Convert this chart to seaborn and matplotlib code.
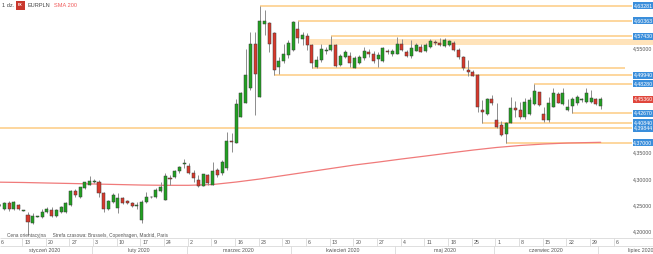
import numpy as np
import pandas as pd
import matplotlib
matplotlib.use("Agg")
import matplotlib.pyplot as plt
import matplotlib.transforms as mtransforms
from matplotlib.patches import Rectangle
import seaborn as sns

# ---------------- data ----------------
dates = pd.bdate_range("2020-01-06", "2020-07-01")

opens = [4.2515, 4.243, 4.255, 4.244, 4.251, 4.240, 4.232, 4.217, 4.228, 4.228,
         4.238, 4.241, 4.230, 4.238, 4.238, 4.251, 4.278, 4.267, 4.283, 4.290,
         4.295, 4.295, 4.274, 4.243, 4.257, 4.245, 4.264, 4.259, 4.254, 4.249,
         4.222, 4.256, 4.266, 4.267, 4.278, 4.261, 4.302, 4.304, 4.315, 4.330,
         4.326, 4.313, 4.299, 4.288, 4.308, 4.289, 4.318, 4.312, 4.321, 4.374,
         4.370, 4.420, 4.447, 4.474, 4.559, 4.457, 4.598, 4.600, 4.580, 4.516,
         4.527, 4.539, 4.548, 4.587, 4.569, 4.574, 4.557, 4.515, 4.528, 4.545,
         4.548, 4.557, 4.519, 4.535, 4.536, 4.513, 4.523, 4.532, 4.544, 4.540,
         4.530, 4.527, 4.545, 4.540, 4.541, 4.560, 4.544, 4.536, 4.546, 4.554,
         4.546, 4.554, 4.562, 4.562, 4.555, 4.557, 4.5605, 4.548, 4.534, 4.509,
         4.506, 4.500, 4.433, 4.425, 4.453, 4.4136, 4.404, 4.387, 4.408, 4.436,
         4.433, 4.419, 4.425, 4.444, 4.467, 4.426, 4.414, 4.439, 4.463, 4.444,
         4.433, 4.440, 4.446, 4.452, 4.449, 4.449, 4.453, 4.440]
highs = [4.253, 4.256, 4.258, 4.258, 4.253, 4.241, 4.238, 4.235, 4.230, 4.243,
         4.246, 4.246, 4.244, 4.249, 4.257, 4.280, 4.281, 4.286, 4.295, 4.306,
         4.300, 4.299, 4.276, 4.260, 4.274, 4.274, 4.267, 4.261, 4.257, 4.257,
         4.260, 4.276, 4.268, 4.283, 4.295, 4.312, 4.308, 4.318, 4.326, 4.339,
         4.331, 4.317, 4.308, 4.311, 4.311, 4.334, 4.321, 4.337, 4.391, 4.388,
         4.453, 4.468, 4.549, 4.583, 4.583, 4.63281, 4.625, 4.602, 4.583, 4.535,
         4.559, 4.567, 4.603, 4.60363, 4.583, 4.580, 4.559, 4.536, 4.560, 4.553,
         4.5743, 4.559, 4.541, 4.548, 4.544, 4.536, 4.539, 4.553, 4.550, 4.546,
         4.544, 4.553, 4.549, 4.549, 4.573, 4.568, 4.548, 4.567, 4.561, 4.559,
         4.562, 4.569, 4.566, 4.570, 4.570, 4.567, 4.564, 4.551, 4.537, 4.529,
         4.510, 4.502, 4.452, 4.456, 4.4615, 4.4456, 4.412, 4.410, 4.457, 4.450,
         4.448, 4.455, 4.457, 4.4828, 4.468, 4.439, 4.457, 4.474, 4.468, 4.474,
         4.453, 4.458, 4.461, 4.455, 4.474, 4.471, 4.455, 4.458]
lows = [4.249, 4.241, 4.240, 4.242, 4.241, 4.239, 4.193, 4.214, 4.227, 4.226,
        4.235, 4.228, 4.228, 4.236, 4.235, 4.248, 4.267, 4.264, 4.281, 4.289,
        4.292, 4.267, 4.238, 4.241, 4.254, 4.235, 4.253, 4.252, 4.247, 4.244,
        4.217, 4.254, 4.265, 4.264, 4.276, 4.260, 4.289, 4.302, 4.313, 4.321,
        4.310, 4.294, 4.286, 4.287, 4.290, 4.289, 4.305, 4.308, 4.318, 4.353,
        4.369, 4.419, 4.446, 4.472, 4.423, 4.457, 4.576, 4.543, 4.4994, 4.502,
        4.522, 4.532, 4.545, 4.561, 4.557, 4.548, 4.5126, 4.513, 4.525, 4.541,
        4.546, 4.515, 4.517, 4.533, 4.516, 4.5128, 4.520, 4.529, 4.535, 4.523,
        4.515, 4.525, 4.541, 4.536, 4.540, 4.546, 4.534, 4.532, 4.545, 4.543,
        4.544, 4.552, 4.558, 4.555, 4.553, 4.555, 4.545, 4.530, 4.510, 4.497,
        4.497, 4.428, 4.4084, 4.424, 4.442, 4.39844, 4.383, 4.3700, 4.407, 4.420,
        4.415, 4.415, 4.423, 4.442, 4.440, 4.410, 4.410, 4.438, 4.446, 4.443,
        4.431, 4.4267, 4.443, 4.449, 4.447, 4.446, 4.443, 4.434]
closes = [4.2505, 4.254, 4.243, 4.256, 4.243, 4.2402, 4.219, 4.230, 4.229, 4.237,
          4.243, 4.230, 4.241, 4.246, 4.254, 4.278, 4.269, 4.285, 4.294, 4.296,
          4.296, 4.273, 4.243, 4.259, 4.270, 4.265, 4.255, 4.254, 4.249, 4.2492,
          4.257, 4.267, 4.267, 4.280, 4.286, 4.306, 4.300, 4.316, 4.323, 4.331,
          4.313, 4.302, 4.287, 4.311, 4.292, 4.315, 4.308, 4.334, 4.374, 4.371,
          4.444, 4.466, 4.500, 4.559, 4.502, 4.603, 4.603, 4.560, 4.509, 4.527,
          4.540, 4.562, 4.602, 4.570, 4.576, 4.557, 4.522, 4.529, 4.550, 4.548,
          4.557, 4.517, 4.536, 4.544, 4.522, 4.532, 4.534, 4.546, 4.540, 4.527,
          4.538, 4.551, 4.544, 4.546, 4.559, 4.548, 4.536, 4.551, 4.557, 4.544,
          4.557, 4.564, 4.5615, 4.557, 4.567, 4.564, 4.548, 4.534, 4.513, 4.506,
          4.498, 4.439, 4.428, 4.453, 4.4456, 4.4008, 4.385, 4.408, 4.436, 4.432,
          4.420, 4.449, 4.452, 4.470, 4.442, 4.414, 4.446, 4.465, 4.447, 4.465,
          4.439, 4.453, 4.457, 4.4522, 4.466, 4.455, 4.444, 4.4536]

# SMA 200 read at weekly points (candle index, value)
sma_idx = [0, 5, 10, 15, 20, 25, 30, 35, 40, 45, 50, 55, 60, 65, 70, 75, 80,
           85, 90, 95, 100, 105, 110, 115, 120, 125, 127]
sma_vals = [4.2945, 4.2939, 4.2929, 4.2920, 4.2910, 4.2900, 4.2890, 4.2885,
            4.2885, 4.2900, 4.2948, 4.3006, 4.3073, 4.3140, 4.3207, 4.3274,
            4.3330, 4.3390, 4.3446, 4.3504, 4.3560, 4.3610, 4.3648, 4.3676,
            4.3695, 4.3705, 4.3709]

# horizontal levels: value, start candle index, labelled
level_vals = [4.63281, 4.60363, 4.57430, 4.51260, 4.49940, 4.48280,
              4.42670, 4.40840, 4.39844, 4.37000]
level_start = [55, 63, 70, 66, 58, 113, 121, 102, 0, 107]
level_label = [True, True, True, False, True, True, True, True, True, True]
zone_low, zone_high, zone_start = 4.557, 4.568, 65.6

last_price = 4.45360
axis_ticks = [4.55, 4.35, 4.30, 4.25, 4.20]
month_names = ["styczeń 2020", "luty 2020", "marzec 2020", "kwiecień 2020",
               "maj 2020", "czerwiec 2020", "lipiec 2020"]

# ---------------- style ----------------
sns.set_theme(style="white")
plt.rcParams["font.family"] = ["Liberation Sans", "DejaVu Sans"]

W, H = 653, 254
PX = 4.733          # pixels per trading day
X0 = -0.4           # pixel of first candle
def ix(px):
    return (px - X0) / PX

GREEN = "#21A121"
RED = "#D8392C"
EDGE = "#3a3a3a"
WICK = "#8c8c8c"
LEVEL = "#FDCB82"
ZONE = "#FFE3BA"
BLUE = "#3A8EDB"

fig = plt.figure(figsize=(W / 100, H / 100), dpi=100)
ax = fig.add_axes([0, 16 / H, 1, 238 / H])
ax.set_xlim(ix(0), ix(W))
ymax = 4.6435
ax.set_ylim(ymax - 238 / 522.0, ymax)
ax.axis("off")

o = np.array(opens); h = np.array(highs); l = np.array(lows); c = np.array(closes)
x = np.arange(len(dates))

# zone and level lines
ax.fill_between([zone_start, ix(W)], zone_low, zone_high, color=ZONE, lw=0, zorder=1)
for v, s, lab in zip(level_vals, level_start, level_label):
    xs = ix(0) if s == 0 else s
    xe = ix(632) if lab else ix(625)
    ax.hlines(v, xs, xe, color=LEVEL, lw=1.1, zorder=1)

# SMA line
sns.lineplot(x=sma_idx, y=sma_vals, ax=ax, color="#F07A7A", lw=0.9, zorder=2)

# candles
ax.vlines(x, l, h, color=WICK, lw=0.7, zorder=3)
cols = np.where(c >= o, GREEN, RED)
bottom = np.minimum(o, c)
height = np.maximum(np.abs(c - o), 0.0009)
ax.bar(x, height, bottom=bottom, width=0.64, color=cols, edgecolor=EDGE,
       linewidth=0.35, zorder=4)

# right price labels
tr = mtransforms.blended_transform_factory(ax.transAxes, ax.transData)
bx0 = 633 / W
bw = 20 / W
bh = 7.2 / 522.0
for t in axis_ticks:
    ax.text(bx0 + bw / 2, t, f"{t:.5f}".replace(".", ","), transform=tr,
            ha="center", va="center", fontsize=3.8, color="#555555", zorder=6)

def box(v, color):
    ax.add_patch(Rectangle((bx0, v - bh / 2), bw, bh, transform=tr,
                           facecolor=color, edgecolor="none", zorder=7,
                           clip_on=False))
    ax.text(bx0 + bw / 2, v, f"{v:.5f}".replace(".", ","), transform=tr,
            ha="center", va="center", fontsize=3.8, color="white", zorder=8)

for v, lab in zip(level_vals, level_label):
    if lab:
        box(v, BLUE)
box(last_price, "#E0463C")

# header
fig.text(2 / W, 1 - 5.5 / H, "1 dz.", fontsize=4.1, color="#444444", va="center")
fig.patches.append(Rectangle((15.5 / W, 1 - 10 / H), 9 / W, 9 / H,
                             transform=fig.transFigure, facecolor="#C9382E",
                             edgecolor="none"))
fig.text(20 / W, 1 - 5.5 / H, "FX", fontsize=2.6, color="white", va="center",
         ha="center", weight="bold")
fig.text(27 / W, 1 - 5.5 / H, "EURPLN", fontsize=4.1, color="#444444", va="center")
fig.text(54 / W, 1 - 5.5 / H, "SMA 200", fontsize=4.1, color="#F05A5A", va="center")
fig.text(7 / W, 1 - 236 / H, "Cena orientacyjna     Strefa czasowa: Brussels, Copenhagen, Madrid, Paris",
         fontsize=3.4, color="#555555", va="center")

# bottom time axis rows
ax2 = fig.add_axes([0, 0, 1, 16 / H])
ax2.set_xlim(ix(0), ix(W))
ax2.set_ylim(16, 0)
ax2.axis("off")
ax2.hlines([0.3, 8], ix(0), ix(W), color="#d9d9d9", lw=0.6)
ticks = pd.date_range("2020-01-06", "2020-07-06", freq="W-MON")
all_days = pd.bdate_range("2020-01-06", "2020-07-31")
pos = {d: i for i, d in enumerate(all_days)}
for d in ticks:
    p = pos[d] - 0.27
    ax2.vlines(p, 0.3, 8, color="#d9d9d9", lw=0.6)
    ax2.text(p + 0.45, 4.3, str(d.day), fontsize=3.8, color="#555555",
             ha="left", va="center")
months = sorted(set((d.year, d.month) for d in all_days))
for k, (yy, mm) in enumerate(months):
    idxs = [pos[d] for d in all_days if d.month == mm]
    start = idxs[0] - 0.5
    if k > 0:
        ax2.vlines(start, 8, 16, color="#d9d9d9", lw=0.6)
    if k < len(months) - 1:
        cx = (idxs[0] + idxs[-1]) / 2
        ax2.text(cx, 12.2, month_names[k], fontsize=3.8, color="#555555",
                 ha="center", va="center")
    else:
        ax2.text(ix(628), 12.2, month_names[k], fontsize=3.8, color="#555555",
                 ha="left", va="center", clip_on=True)

fig.savefig("out.png", dpi=100)
